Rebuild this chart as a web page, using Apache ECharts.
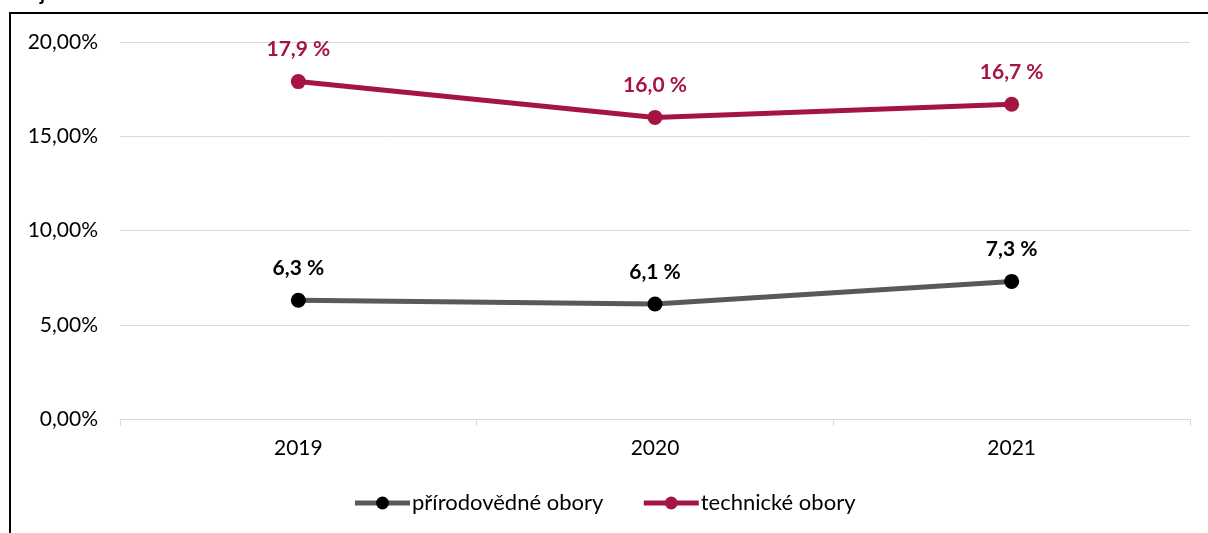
<!DOCTYPE html>
<html>
<head>
<meta charset="utf-8">
<script src="https://cdn.jsdelivr.net/npm/echarts@6/dist/echarts.min.js"></script>
<style>
  html, body { margin: 0; padding: 0; background: #fff; }
  #main { width: 1208px; height: 533px; }
</style>
</head>
<body>
<div id="main"></div>
<script>
// data
var years = ['2019', '2020', '2021'];
var prirodovedne = [6.3, 6.1, 7.3];
var technicke = [17.9, 16.0, 16.7];
var seriesNames = ['přírodovědné obory', 'technické obory'];

var FONT = 'Lato, "Open Sans", sans-serif';
var GRAY = '#595959';
var RED = '#a51541';

function pct(v) {
    return v.toFixed(1).replace('.', ',') + ' %';
}

var myChart = echarts.init(document.getElementById('main'));

var option = {
    animation: false,
    textStyle: { fontFamily: FONT },
    graphic: [
        {
            type: 'polyline',
            shape: { points: [[10, 540], [10, 13], [1215, 13]] },
            style: { stroke: '#000', lineWidth: 2, fill: null }
        },
        {
            type: 'text',
            left: 40,
            top: -16,
            style: { text: 'j', font: 'bold 20px Lato', fill: '#000' }
        }
    ],
    grid: {
        left: 120,
        right: 18,
        top: 42,
        bottom: 114
    },
    legend: {
        bottom: 14,
        left: 'center',
        itemWidth: 55,
        itemHeight: 16,
        itemGap: 38,
        textStyle: { fontSize: 22, color: '#000', fontFamily: FONT, padding: [0, 0, 0, -3] },
        data: [
            { name: seriesNames[0], lineStyle: { width: 5, color: GRAY }, itemStyle: { color: '#000' } },
            { name: seriesNames[1], lineStyle: { width: 5, color: RED }, itemStyle: { color: RED } }
        ]
    },
    xAxis: {
        type: 'category',
        data: years,
        boundaryGap: true,
        axisLine: { lineStyle: { color: '#d9d9d9', width: 1 } },
        axisTick: { show: true, length: 7, lineStyle: { color: '#d9d9d9' } },
        axisLabel: { fontSize: 21, color: '#000', margin: 19 }
    },
    yAxis: {
        type: 'value',
        min: 0,
        max: 20,
        interval: 5,
        axisLine: { show: false },
        axisTick: { show: false },
        splitLine: { lineStyle: { color: '#d9d9d9', width: 1 } },
        axisLabel: {
            fontSize: 21,
            color: '#000',
            margin: 22,
            formatter: function (v) { return v.toFixed(2).replace('.', ',') + '%'; }
        }
    },
    series: [
        {
            name: seriesNames[0],
            type: 'line',
            data: prirodovedne,
            symbol: 'circle',
            symbolSize: 15,
            lineStyle: { color: GRAY, width: 5 },
            itemStyle: { color: '#000' },
            label: {
                show: true,
                position: 'top',
                distance: 14,
                fontSize: 21,
                fontWeight: 'bold',
                color: '#000',
                formatter: function (p) { return pct(p.value); }
            }
        },
        {
            name: seriesNames[1],
            type: 'line',
            data: technicke,
            symbol: 'circle',
            symbolSize: 15,
            lineStyle: { color: RED, width: 5 },
            itemStyle: { color: RED },
            label: {
                show: true,
                position: 'top',
                distance: 14,
                fontSize: 21,
                fontWeight: 'bold',
                color: RED,
                formatter: function (p) { return pct(p.value); }
            }
        }
    ]
};

myChart.setOption(option);
</script>
</body>
</html>
